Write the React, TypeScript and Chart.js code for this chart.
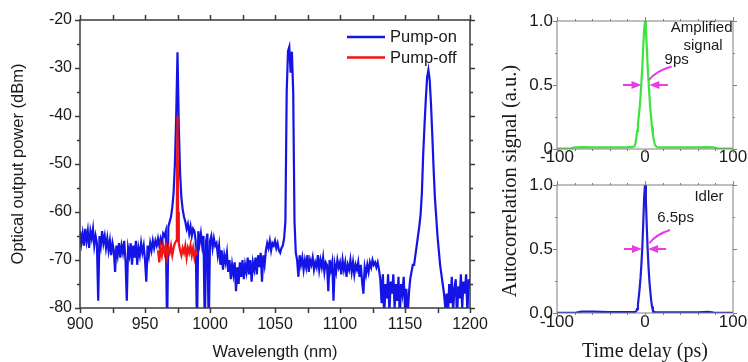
import React, { useEffect, useRef } from 'react';
import { Chart, registerables } from 'chart.js';

Chart.register(...registerables);

const SANS = '"Liberation Sans", Arial, Helvetica, sans-serif';
const SERIF = '"Liberation Serif", "Times New Roman", Times, serif';
const INK = '#1a1a1a';

// ---------- Left panel: optical spectrum ----------
const pumpOnStartNm = 900; // one sample per nm, 900 ... 1200
const pumpOnPower = [
  -64, -66.5, -64.5, -67, -63.5, -66, -64, -67.5, -64, -65.5,
  -63.5, -67, -65, -66.5, -78.5, -65, -67, -64, -66.5, -65,
  -67.5, -65.5, -68, -66, -69, -66.5, -68, -72.5, -67, -69,
  -66.5, -69.5, -67, -68.5, -66, -70, -78.5, -67.5, -69, -66.5,
  -71, -67, -69.5, -66, -71, -67.5, -69, -66.5, -68.5, -67,
  -70, -74.5, -67, -69, -66.5, -68, -66, -67.5, -66, -67,
  -65.5, -67, -65.5, -66.5, -64.5, -65, -64, -85, -63, -62,
  -61, -59, -56, -50, -40, -26.7, -42, -52, -57, -59.5,
  -61, -62, -63.5, -62.5, -64.5, -63, -65, -63.5, -64, -66,
  -85, -64, -66.5, -64.5, -67, -65, -85, -66, -64.5, -85,
  -66, -65, -67.5, -65.5, -67, -66.5, -69, -67, -71, -68,
  -72, -69, -70.5, -68.5, -72.5, -70, -74, -71, -73, -70.5,
  -76.5, -71.5, -75, -70.5, -73.5, -70, -74, -71, -72.5, -69.5,
  -73, -70, -74.5, -70.5, -72, -69.5, -73, -69, -71.5, -68.5,
  -74.5, -69, -71, -68, -66.5, -67.5, -66, -68, -66.5, -67,
  -66, -67.5, -66.5, -68, -68.5, -67.5, -67, -65.5, -62, -35,
  -26.5, -25.6, -31, -26.6, -35, -62, -68.5, -70, -73.5, -69,
  -71, -69.5, -72, -70, -71.5, -69, -72.5, -70, -71, -69.5,
  -72, -70.5, -71.5, -69, -72, -70, -71.5, -69.5, -72.5, -70.5,
  -71, -76.5, -70, -72, -70.5, -78.5, -71, -72.5, -70, -71.5,
  -70.5, -73, -70, -72, -70.5, -73.5, -71, -72, -70, -72.5,
  -70.5, -73, -71, -72, -70.5, -73.5, -71, -74.5, -77, -71.5,
  -73, -71, -72.5, -70.5, -71.5, -70, -71, -70.5, -71.5, -70.5,
  -72, -74, -79, -73, -82, -75, -78, -73, -81, -74.5,
  -77, -73, -80, -75, -78.5, -73.5, -82, -75, -77, -73.5,
  -80, -76, -82, -77, -74, -72.5, -71, -71, -69, -67,
  -65, -63, -60.5, -56, -48, -42, -36.5, -32, -30.4, -32.5,
  -37.5, -44, -51, -57, -61, -65, -68, -71, -73, -75,
  -77, -80, -77, -82, -75, -79, -73.5, -81, -76, -74,
  -82, -75.5, -78, -73, -80, -74.5, -77, -73, -81, -74,
  -76,
];

const pumpOffNm = [
  960, 961, 962, 963, 964, 965, 966, 967, 968, 969, 970, 971, 972, 973, 974,
  974.5, 975, 975.5,
  976, 977, 978, 979, 980, 981, 982, 983, 984, 985, 986, 987, 988, 989, 990,
];
const pumpOffPower = [
  -68, -70.5, -67.5, -69, -67, -68.5, -67, -69.5, -67.5, -68.5, -67, -69, -67.5, -66.5, -66,
  -58, -40, -60,
  -66.5, -68, -69, -67.5, -68.5, -67, -69.5, -67.5, -68.5, -67, -69, -67.5, -69.5, -68, -69,
];

const seriesLabels = ['Pump-on', 'Pump-off'];
const seriesColors = ['#1414e6', '#f01414'];

// ---------- Right panels: autocorrelation traces ----------
const signalDelay = [
  -100, -90, -84, -80, -70, -60, -50, -40, -30, -20,
  -14, -12, -11, -10, -9, -8, -7, -6, -5, -4, -3, -2, -1,
  0,
  1, 2, 3, 4, 5, 6, 7, 8, 9, 10, 11, 12,
  14, 20, 30, 40, 50, 60, 70, 78, 82, 90, 100,
];
const signalTrace = [
  0.004, 0.004, 0.006, 0.012, 0.014, 0.013, 0.012, 0.013, 0.012, 0.013,
  0.016, 0.02, 0.04, 0.08, 0.14, 0.2, 0.26, 0.33, 0.42, 0.53, 0.65, 0.8, 0.93,
  1.0,
  0.93, 0.8, 0.65, 0.53, 0.42, 0.32, 0.24, 0.17, 0.11, 0.07, 0.04, 0.025,
  0.015, 0.012, 0.013, 0.012, 0.012, 0.013, 0.015, 0.012, 0.005, 0.004, 0.004,
];

const idlerDelay = [
  -100, -85, -78, -72, -60, -40, -20, -12,
  -10, -9, -8, -7, -6, -5, -4, -3, -2, -1,
  0,
  1, 2, 3, 4, 5, 6, 7, 8, 9, 10,
  12, 20, 40, 60, 72, 78, 85, 100,
];
const idlerTrace = [
  0.002, 0.002, 0.004, 0.01, 0.01, 0.008, 0.008, 0.008,
  0.012, 0.03, 0.07, 0.13, 0.2, 0.28, 0.39, 0.52, 0.7, 0.9,
  1.0,
  0.88, 0.68, 0.5, 0.36, 0.25, 0.17, 0.1, 0.05, 0.02, 0.01,
  0.006, 0.006, 0.006, 0.006, 0.008, 0.004, 0.002, 0.002,
];

// annotation anchors (data coordinates: delay in ps, signal level)
const fwhmLevel = 0.5;
const signalArrowDelay = [-25, -4, 26, 5]; // left tail, left tip, right tail, right tip
const idlerArrowDelay = [-24, -3.5, 24, 3.5];
const signalLeader = [[30.3, 0.645], [12.5, 0.61], [4.5, 0.54]];
const idlerLeader = [[28.4, 0.648], [12.5, 0.613], [4.9, 0.545]];
const signalNotes = ['Amplified', 'signal', '9ps'];
const signalNotePos = [[64.4, 0.948], [66, 0.807], [36, 0.7]];
const idlerNotes = ['Idler', '6.5ps'];
const idlerNotePos = [[72.7, 0.91], [34.7, 0.74]];

const MAGENTA = '#e83ce8';

function fixAxis(size: number) {
  return (scale: any) => {
    if (scale.isHorizontal()) scale.height = size;
    else scale.width = size;
    scale.paddingLeft = 0;
    scale.paddingRight = 0;
    scale.paddingTop = 0;
    scale.paddingBottom = 0;
  };
}

function framePlugin(o: {
  color: string;
  width: number;
  major: number;
  minor: number;
  xMajor: (v: number) => boolean;
  yMajor: (v: number) => boolean;
}) {
  return {
    id: 'frame',
    afterDatasetsDraw(chart: any) {
      const { ctx, chartArea: a, scales } = chart;
      const xs = scales.x;
      const ys = scales.y;
      ctx.save();
      ctx.strokeStyle = o.color;
      ctx.lineWidth = o.width;
      ctx.beginPath();
      for (const t of xs.ticks) {
        const p = Math.round(xs.getPixelForValue(t.value)) + 0.5;
        const len = o.xMajor(t.value) ? o.major : o.minor;
        ctx.moveTo(p, a.bottom);
        ctx.lineTo(p, a.bottom + len);
        ctx.moveTo(p, a.top);
        ctx.lineTo(p, a.top - len);
      }
      for (const t of ys.ticks) {
        const p = Math.round(ys.getPixelForValue(t.value)) + 0.5;
        const len = o.yMajor(t.value) ? o.major : o.minor;
        ctx.moveTo(a.left, p);
        ctx.lineTo(a.left - len, p);
        ctx.moveTo(a.right, p);
        ctx.lineTo(a.right + len, p);
      }
      ctx.stroke();
      ctx.strokeRect(a.left, a.top, a.right - a.left, a.bottom - a.top);
      ctx.restore();
    },
  };
}

const spectrumLegend = {
  id: 'spectrumLegend',
  afterDatasetsDraw(chart: any) {
    const { ctx, chartArea: a } = chart;
    ctx.save();
    chart.data.datasets.forEach((ds: any, i: number) => {
      const y = a.top + 17 + i * 20.5;
      ctx.strokeStyle = ds.borderColor;
      ctx.lineWidth = 2.5;
      ctx.beginPath();
      ctx.moveTo(a.right - 123, y);
      ctx.lineTo(a.right - 85, y);
      ctx.stroke();
      ctx.fillStyle = INK;
      ctx.font = `16.5px ${SANS}`;
      ctx.textAlign = 'left';
      ctx.textBaseline = 'middle';
      ctx.fillText(ds.label, a.right - 80, y + 0.5);
    });
    ctx.restore();
  },
};

function pulseNotes(arrows: number[], leader: number[][], notes: string[], pos: number[][]) {
  return {
    id: 'pulseNotes',
    afterDatasetsDraw(chart: any) {
      const { ctx, scales } = chart;
      const xs = scales.x;
      const ys = scales.y;
      const X = (v: number) => xs.getPixelForValue(v);
      const Y = (v: number) => ys.getPixelForValue(v);
      ctx.save();
      ctx.strokeStyle = MAGENTA;
      ctx.fillStyle = MAGENTA;
      ctx.lineWidth = 2;
      const y = Y(fwhmLevel);
      const drawArrow = (tail: number, tip: number) => {
        const tx = X(tail);
        const hx = X(tip);
        const dir = hx > tx ? 1 : -1;
        ctx.beginPath();
        ctx.moveTo(tx, y);
        ctx.lineTo(hx - dir * 6, y);
        ctx.stroke();
        ctx.beginPath();
        ctx.moveTo(hx, y);
        ctx.lineTo(hx - dir * 10, y - 4);
        ctx.lineTo(hx - dir * 10, y + 4);
        ctx.closePath();
        ctx.fill();
      };
      drawArrow(arrows[0], arrows[1]);
      drawArrow(arrows[2], arrows[3]);
      ctx.beginPath();
      ctx.moveTo(X(leader[0][0]), Y(leader[0][1]));
      ctx.quadraticCurveTo(X(leader[1][0]), Y(leader[1][1]), X(leader[2][0]), Y(leader[2][1]));
      ctx.stroke();
      ctx.fillStyle = INK;
      ctx.font = `15px ${SANS}`;
      ctx.textAlign = 'center';
      ctx.textBaseline = 'middle';
      notes.forEach((n, i) => ctx.fillText(n, X(pos[i][0]), Y(pos[i][1])));
      ctx.restore();
    },
  };
}

const sharedTitle = {
  id: 'sharedTitle',
  afterDraw(chart: any) {
    const { ctx, chartArea: a } = chart;
    ctx.save();
    ctx.translate(a.left - 46, a.top - 4);
    ctx.rotate(-Math.PI / 2);
    ctx.font = `20.5px ${SERIF}`;
    ctx.fillStyle = INK;
    ctx.textAlign = 'center';
    ctx.textBaseline = 'middle';
    ctx.fillText('Autocorrelation signal (a.u.)', 0, 0);
    ctx.restore();
  },
};

function spectrumConfig(): any {
  return {
    type: 'line',
    data: {
      datasets: [
        {
          label: seriesLabels[0],
          data: pumpOnPower.map((p, i) => ({ x: pumpOnStartNm + i, y: p })),
          borderColor: seriesColors[0],
          borderWidth: 2.2,
          pointRadius: 0,
          tension: 0,
          clip: 0,
          order: 1,
        },
        {
          label: seriesLabels[1],
          data: pumpOffNm.map((x, i) => ({ x, y: pumpOffPower[i] })),
          borderColor: seriesColors[1],
          borderWidth: 2.2,
          pointRadius: 0,
          tension: 0,
          clip: 0,
          order: 0,
        },
      ],
    },
    options: {
      responsive: false,
      animation: false,
      devicePixelRatio: 1,
      events: [],
      layout: { padding: { top: 20, right: 20, left: 0, bottom: 0 } },
      plugins: { legend: { display: false }, tooltip: { enabled: false } },
      scales: {
        x: {
          type: 'linear',
          min: 900,
          max: 1200,
          afterFit: fixAxis(54),
          grid: { display: false, drawTicks: false },
          border: { display: false },
          ticks: {
            stepSize: 25,
            autoSkip: false,
            maxRotation: 0,
            minRotation: 0,
            padding: 7,
            color: INK,
            font: { family: SANS, size: 16 },
            callback: (v: number) => (v % 50 === 0 ? String(v) : ''),
          },
          title: {
            display: true,
            text: 'Wavelength (nm)',
            color: INK,
            font: { family: SANS, size: 16.5 },
            padding: { top: 0, bottom: 0 },
          },
        },
        y: {
          type: 'linear',
          min: -80,
          max: -20,
          afterFit: fixAxis(80),
          grid: { display: false, drawTicks: false },
          border: { display: false },
          ticks: {
            stepSize: 5,
            autoSkip: false,
            padding: 8,
            color: INK,
            font: { family: SANS, size: 16 },
            callback: (v: number) => (v % 10 === 0 ? String(v) : ''),
          },
          title: {
            display: true,
            text: 'Optical output power (dBm)',
            color: INK,
            font: { family: SANS, size: 16.5 },
            padding: { top: 8.5, bottom: 0 },
          },
        },
      },
    },
    plugins: [
      framePlugin({
        color: '#3a3a3a',
        width: 1.5,
        major: 5,
        minor: 3,
        xMajor: () => true,
        yMajor: (v) => v % 10 === 0,
      }),
      spectrumLegend,
    ],
  };
}

function traceConfig(
  delay: number[],
  trace: number[],
  color: string,
  top: number,
  xAxisHeight: number,
  xPad: number,
  zeroLabel: string,
  withTitle: boolean,
  notes: any,
): any {
  const plugins: any[] = [
    framePlugin({
      color: '#808080',
      width: 1,
      major: 4,
      minor: 2,
      xMajor: (v) => v % 100 === 0,
      yMajor: (v) => v === 0 || v === 0.5 || v === 1,
    }),
    notes,
  ];
  if (withTitle) plugins.push(sharedTitle);
  return {
    type: 'line',
    data: {
      datasets: [
        {
          data: delay.map((x, i) => ({ x, y: trace[i] })),
          borderColor: color,
          borderWidth: 2.2,
          pointRadius: 0,
          tension: 0,
          clip: 0,
        },
      ],
    },
    options: {
      responsive: false,
      animation: false,
      devicePixelRatio: 1,
      events: [],
      layout: { padding: { top, right: 15, left: 0, bottom: 0 } },
      plugins: { legend: { display: false }, tooltip: { enabled: false } },
      scales: {
        x: {
          type: 'linear',
          min: -100,
          max: 100,
          afterFit: fixAxis(xAxisHeight),
          grid: { display: false, drawTicks: false },
          border: { display: false },
          ticks: {
            stepSize: 20,
            autoSkip: false,
            maxRotation: 0,
            minRotation: 0,
            padding: xPad,
            color: INK,
            font: { family: SANS, size: 17, lineHeight: 1 },
            callback: (v: number) => (v % 100 === 0 ? String(v) : ''),
          },
          title: {
            display: withTitle,
            text: 'Time delay (ps)',
            color: INK,
            font: { family: SERIF, size: 20, lineHeight: 1 },
            padding: { top: 0, bottom: 0 },
          },
        },
        y: {
          type: 'linear',
          min: 0,
          max: 1,
          afterFit: fixAxis(67),
          grid: { display: false, drawTicks: false },
          border: { display: false },
          ticks: {
            stepSize: 0.25,
            autoSkip: false,
            padding: 4,
            color: INK,
            font: { family: SANS, size: 17 },
            callback: (v: number) => (v === 0 ? zeroLabel : v === 0.5 ? '0.5' : v === 1 ? '1.0' : ''),
          },
        },
      },
    },
    plugins,
  };
}

export default function App() {
  const leftRef = useRef<HTMLCanvasElement>(null);
  const topRef = useRef<HTMLCanvasElement>(null);
  const botRef = useRef<HTMLCanvasElement>(null);

  useEffect(() => {
    const charts = [
      new Chart(leftRef.current!, spectrumConfig()),
      new Chart(
        botRef.current!,
        traceConfig(idlerDelay, idlerTrace, '#1e1ed8', 185, 49, 1, '0.0', true,
          pulseNotes(idlerArrowDelay, idlerLeader, idlerNotes, idlerNotePos)),
      ),
      new Chart(
        topRef.current!,
        traceConfig(signalDelay, signalTrace, '#3ee43e', 21, 21, 0, '0', false,
          pulseNotes(signalArrowDelay, signalLeader, signalNotes, signalNotePos)),
      ),
    ];
    return () => charts.forEach((c) => c.destroy());
  }, []);

  return (
    <div
      style={{
        position: 'absolute',
        left: 0,
        top: 0,
        width: 748,
        height: 362,
        background: '#ffffff',
        overflow: 'hidden',
      }}
    >
      <canvas
        ref={leftRef}
        width={490}
        height={362}
        style={{ position: 'absolute', left: 0, top: 0, width: 490, height: 362 }}
      />
      <canvas
        ref={botRef}
        width={258}
        height={362}
        style={{ position: 'absolute', left: 490, top: 0, width: 258, height: 362 }}
      />
      <canvas
        ref={topRef}
        width={258}
        height={170}
        style={{ position: 'absolute', left: 490, top: 0, width: 258, height: 170 }}
      />
    </div>
  );
}
